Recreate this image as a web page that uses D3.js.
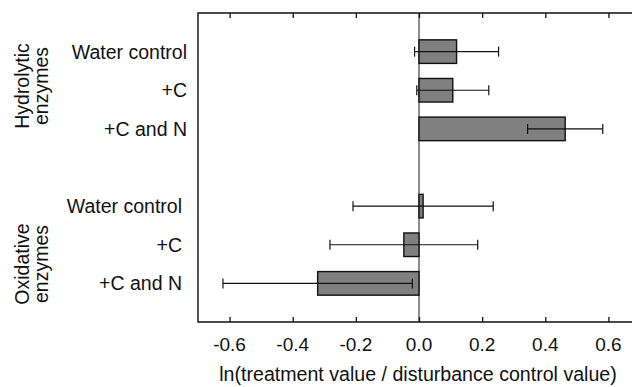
<!DOCTYPE html>
<html>
<head>
<meta charset="utf-8">
<script src="https://cdn.jsdelivr.net/npm/d3@7/dist/d3.min.js"></script>
<style>
  body { margin: 0; background: #fff; }
  svg { display: block; font-family: "Liberation Sans", Arial, sans-serif; }
</style>
</head>
<body>
<div id="chart"></div>
<script>
// treatment labels and values
var treatments = ["Water control", "+C", "+C and N"];
var hydroMean = [0.119, 0.107, 0.463];
var hydroErr = [0.133, 0.114, 0.119];
var oxidMean = [0.013, -0.048, -0.321];
var oxidErr = [0.222, 0.234, 0.300];
var groupNames = [["Hydrolytic", "enzymes"], ["Oxidative", "enzymes"]];
var xTicks = [-0.6, -0.4, -0.2, 0.0, 0.2, 0.4, 0.6];
var xLabel = "ln(treatment value / disturbance control value)";

var W = 632, H = 387,
    mLeft = 198, mTop = 13, mBottom = 322, mRight = 640;

var rows = [];
treatments.forEach(function(t, i) {
    rows.push({ key: "h" + i, label: t, mean: hydroMean[i], err: hydroErr[i], group: 0 });
});
var slots = rows.map(function(d) { return d.key; }).concat(["gap"]);
treatments.forEach(function(t, i) {
    rows.push({ key: "o" + i, label: t, mean: oxidMean[i], err: oxidErr[i], group: 1 });
    slots.push("o" + i);
});

var x = d3.scaleLinear().domain([-0.7, 0.7]).range([mLeft, mRight]);
var y = d3.scalePoint().domain(slots).range([mTop, mBottom]).padding(1);
var barH = y.step() * 0.61;

var svg = d3.select("#chart").append("svg")
    .attr("width", W)
    .attr("height", H);

// zero line
svg.append("line")
    .attr("x1", x(0)).attr("x2", x(0))
    .attr("y1", mTop).attr("y2", mBottom)
    .attr("stroke", "#666").attr("stroke-width", 1.5);

// bars
svg.selectAll("rect.bar")
    .data(rows)
    .enter().append("rect")
    .attr("class", "bar")
    .attr("x", function(d) { return x(Math.min(0, d.mean)); })
    .attr("width", function(d) { return Math.abs(x(d.mean) - x(0)); })
    .attr("y", function(d) { return y(d.key) - barH / 2; })
    .attr("height", barH)
    .attr("fill", "#808080")
    .attr("stroke", "#111")
    .attr("stroke-width", 1.4);

// error bars
var eb = svg.selectAll("g.err")
    .data(rows)
    .enter().append("g")
    .attr("class", "err")
    .attr("stroke", "#111")
    .attr("stroke-width", 1.2);
eb.append("line")
    .attr("x1", function(d) { return x(d.mean - d.err); })
    .attr("x2", function(d) { return x(d.mean + d.err); })
    .attr("y1", function(d) { return y(d.key); })
    .attr("y2", function(d) { return y(d.key); });
[-1, 1].forEach(function(s) {
    eb.append("line")
        .attr("x1", function(d) { return x(d.mean + s * d.err); })
        .attr("x2", function(d) { return x(d.mean + s * d.err); })
        .attr("y1", function(d) { return y(d.key) - 5; })
        .attr("y2", function(d) { return y(d.key) + 5; });
});

// frame (right side falls outside the window)
svg.append("path")
    .attr("d", "M" + mRight + "," + mTop + "H" + mLeft + "V" + mBottom + "H" + mRight)
    .attr("fill", "none")
    .attr("stroke", "#111")
    .attr("stroke-width", 1.4);

// inward ticks top and bottom
var topAxis = d3.axisBottom(x).tickValues(xTicks).tickSize(5).tickFormat("");
svg.append("g")
    .attr("transform", "translate(0," + mTop + ")")
    .call(topAxis)
    .call(function(g) { g.select(".domain").remove(); });
var botAxis = d3.axisTop(x).tickValues(xTicks).tickSize(5).tickFormat("");
svg.append("g")
    .attr("transform", "translate(0," + mBottom + ")")
    .call(botAxis)
    .call(function(g) { g.select(".domain").remove(); });
svg.selectAll(".tick line").attr("stroke", "#111").attr("stroke-width", 1.3);

// tick labels
svg.selectAll("text.xt")
    .data(xTicks)
    .enter().append("text")
    .attr("class", "xt")
    .attr("x", function(d) { return x(d); })
    .attr("y", 351)
    .attr("text-anchor", "middle")
    .attr("font-size", 19)
    .attr("fill", "#111")
    .text(function(d) { return d3.format(".1f")(d).replace("−", "-"); });

svg.append("text")
    .attr("x", (mLeft + mRight) / 2 - 1)
    .attr("y", 381)
    .attr("text-anchor", "middle")
    .attr("font-size", 19.6)
    .attr("fill", "#111")
    .text(xLabel);

// row labels
svg.selectAll("text.rl")
    .data(rows)
    .enter().append("text")
    .attr("class", "rl")
    .attr("x", function(d) { return d.group === 0 ? 187 : 182; })
    .attr("y", function(d) { return y(d.key) + 7; })
    .attr("text-anchor", "end")
    .attr("font-size", 19.5)
    .attr("fill", "#111")
    .text(function(d) { return d.label; });

// group labels
var groupY = [86, 264];
groupNames.forEach(function(lines, gi) {
    lines.forEach(function(s, li) {
        svg.append("text")
            .attr("transform", "translate(" + (29 + li * 19) + "," + groupY[gi] + ") rotate(-90)")
            .attr("text-anchor", "middle")
            .attr("font-size", 19.5)
            .attr("fill", "#111")
            .text(s);
    });
});
</script>
</body>
</html>
